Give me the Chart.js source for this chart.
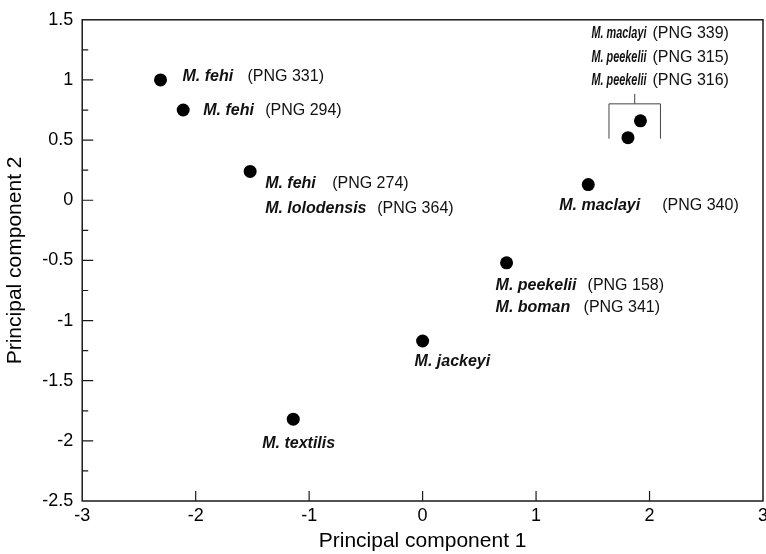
<!DOCTYPE html>
<html>
<head>
<meta charset="utf-8">
<script src="https://cdn.jsdelivr.net/npm/chart.js@4.4.1/dist/chart.umd.min.js"></script>
<style>
  html, body { margin: 0; padding: 0; background: #fff; overflow: hidden; }
  #wrap { position: relative; width: 774px; height: 554px; }
</style>
</head>
<body>
<div id="wrap"><canvas id="pcaChart"></canvas></div>
<script>
// principal component scores
const pc1 = [-2.31, -2.11, -1.52, 1.92, 1.81, 1.46, 0.74, 0.00, -1.14];
const pc2 = [1.00, 0.75, 0.24, 0.66, 0.52, 0.13, -0.52, -1.17, -1.82];

// tick ranges
const xTicks = [-3, -2, -1, 0, 1, 2, 3];
const yTicks = [-2.5, -2, -1.5, -1, -0.5, 0, 0.5, 1, 1.5];

// labels: which point, species names, specimen codes
const labelPoint = [0, 1, 2, 3, 5, 6, 7, 8];
const labelSpecies = [
  ["M. fehi"],
  ["M. fehi"],
  ["M. fehi", "M. lolodensis"],
  ["M. maclayi", "M. peekelii", "M. peekelii"],
  ["M. maclayi"],
  ["M. peekelii", "M. boman"],
  ["M. jackeyi"],
  ["M. textilis"]
];
const labelCodes = [
  ["(PNG 331)"],
  ["(PNG 294)"],
  ["(PNG 274)", "(PNG 364)"],
  ["(PNG 339)", "(PNG 315)", "(PNG 316)"],
  ["(PNG 340)"],
  ["(PNG 158)", "(PNG 341)"],
  [""],
  [""]
];

// label placement (pixels, relative to the point)
const labelDx = [22, 20, 15, -49, -29, -11, -8, -31];
const labelDy = [-3, 1, 12, -87, 21, 23, 21, 24];
const labelLineGap = [0, 0, 25, 23.5, 0, 22, 0, 0];
const codeOffset = [
  [65], [62], [67, 112], [61, 61, 61], [103], [92, 88], [0], [0]
];

const labelPlugin = {
  id: 'labelPlugin',
  afterDatasetsDraw(chart) {
    const ctx = chart.ctx;
    const pts = chart.getDatasetMeta(0).data;
    ctx.save();
    ctx.fillStyle = '#111';
    ctx.textBaseline = 'middle';
    ctx.textAlign = 'left';
    for (let i = 0; i < labelPoint.length; i++) {
      const p = pts[labelPoint[i]];
      const x0 = p.x + labelDx[i];
      for (let j = 0; j < labelSpecies[i].length; j++) {
        const y = p.y + labelDy[i] + j * labelLineGap[i];
        ctx.font = 'italic bold 16px "Liberation Sans", Arial, sans-serif';
        if (labelCodes[i][j]) {
          ctx.fillText(labelSpecies[i][j], x0, y, codeOffset[i][j] - 6);
          ctx.font = '16px "Liberation Sans", Arial, sans-serif';
          ctx.fillText(labelCodes[i][j], x0 + codeOffset[i][j], y);
        } else {
          ctx.fillText(labelSpecies[i][j], x0, y);
        }
      }
    }
    // bracket over the two close points
    const a = pts[3], b = pts[4];
    const left = b.x - 19, right = a.x + 20, top = a.y - 17, bottom = b.y + 1;
    const mid = (left + right) / 2;
    ctx.strokeStyle = '#444';
    ctx.lineWidth = 1;
    ctx.beginPath();
    ctx.moveTo(left, bottom); ctx.lineTo(left, top); ctx.lineTo(right, top); ctx.lineTo(right, bottom);
    ctx.moveTo(mid, top); ctx.lineTo(mid, top - 10);
    ctx.stroke();
    ctx.restore();
  }
};

const framePlugin = {
  id: 'framePlugin',
  afterDraw(chart) {
    const ctx = chart.ctx, area = chart.chartArea;
    const xs = chart.scales.x, ys = chart.scales.y;
    ctx.save();
    ctx.strokeStyle = '#1a1a1a';
    ctx.lineWidth = 1.5;
    ctx.strokeRect(area.left, area.top, area.right - area.left, area.bottom - area.top);
    ctx.lineWidth = 1.2;
    ctx.beginPath();
    xTicks.forEach(function(v) {
      const px = xs.getPixelForValue(v);
      if (px <= area.left + 1 || px >= area.right - 1) return;
      ctx.moveTo(px, area.bottom);
      ctx.lineTo(px, area.bottom - 10);
    });
    for (let k = 0; k <= 16; k++) {
      const v = ys.min + k * 0.25;
      const py = ys.getPixelForValue(v);
      if (py <= area.top + 1 || py >= area.bottom - 1) continue;
      const len = (k % 2 === 0) ? 11 : 6;
      ctx.moveTo(area.left, py);
      ctx.lineTo(area.left + len, py);
    }
    ctx.stroke();
    ctx.restore();
  }
};

const points = pc1.map(function(v, i) { return { x: v, y: pc2[i] }; });

new Chart(document.getElementById('pcaChart'), {
  type: 'scatter',
  data: {
    datasets: [{
      data: points,
      backgroundColor: '#000',
      borderWidth: 0,
      pointRadius: 6.5,
      pointHoverRadius: 6.5
    }]
  },
  options: {
    responsive: true,
    maintainAspectRatio: false,
    animation: false,
    layout: { padding: { left: 3, top: 18, right: 0, bottom: 0 } },
    plugins: {
      legend: { display: false },
      tooltip: { enabled: false }
    },
    scales: {
      x: {
        type: 'linear',
        min: -3,
        max: 3,
        afterBuildTicks: function(s) { s.ticks = xTicks.map(function(v) { return { value: v }; }); },
        grid: { display: false, drawTicks: false },
        border: { display: false },
        ticks: {
          color: '#000',
          padding: 6,
          maxRotation: 0,
          font: { family: '"Liberation Sans", Arial, sans-serif', size: 18, lineHeight: 1.0 },
          callback: function(v) { return String(v); }
        },
        title: {
          display: true,
          text: 'Principal component 1',
          color: '#000',
          padding: { top: 0, bottom: 2 },
          font: { family: '"Liberation Sans", Arial, sans-serif', size: 21, lineHeight: 1.0 }
        }
      },
      y: {
        type: 'linear',
        min: -2.5,
        max: 1.5,
        afterBuildTicks: function(s) { s.ticks = yTicks.map(function(v) { return { value: v }; }); },
        grid: { display: false, drawTicks: false },
        border: { display: false },
        ticks: {
          color: '#000',
          padding: 9,
          font: { family: '"Liberation Sans", Arial, sans-serif', size: 18 },
          callback: function(v) { return String(v); }
        },
        title: {
          display: true,
          text: 'Principal component 2',
          color: '#000',
          padding: { top: 0, bottom: 5 },
          font: { family: '"Liberation Sans", Arial, sans-serif', size: 21 }
        }
      }
    }
  },
  plugins: [labelPlugin, framePlugin]
});
</script>
</body>
</html>
